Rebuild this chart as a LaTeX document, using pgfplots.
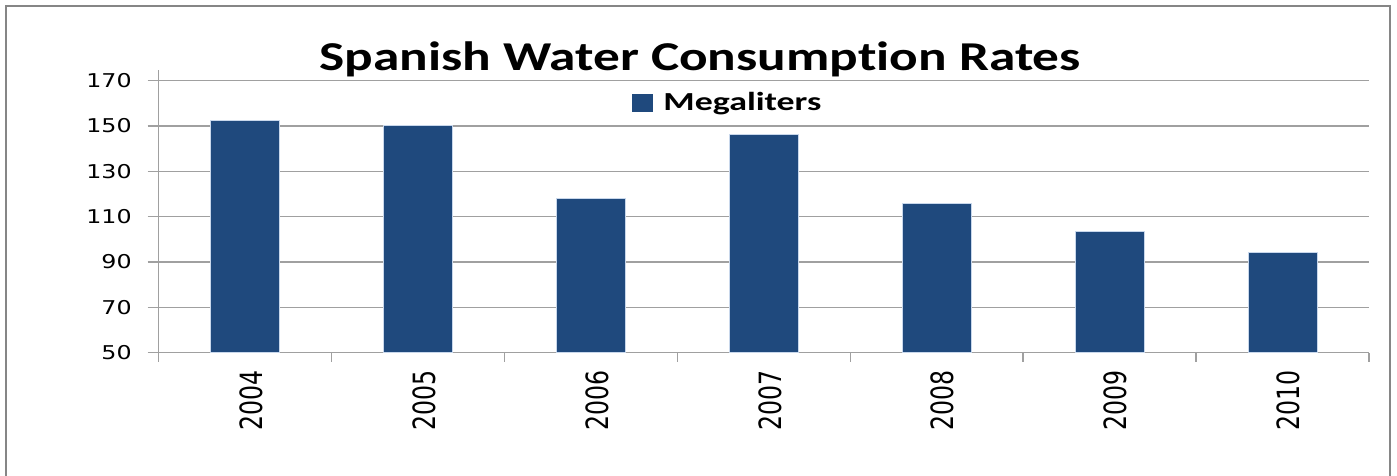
\documentclass[border=0pt]{standalone}
\usepackage{pgfplots}
\pgfplotsset{compat=1.18}
\usepackage{fontspec}
\usepackage{graphicx}
\setmainfont{DejaVu Sans}
\newfontfamily\ylabfont[FakeStretch=1.25]{DejaVu Sans}
\newfontfamily\xlabfont{DejaVu Sans}
\newfontfamily\titlefont[FakeStretch=1.3,RawFeature={-liga;-dlig}]{Carlito}
\newfontfamily\legfont[FakeStretch=1.38,RawFeature={-liga;-dlig}]{Carlito}
\definecolor{barblue}{RGB}{31,73,125}
\definecolor{baredge}{RGB}{200,215,235}
\definecolor{gridgray}{RGB}{160,160,160}
\definecolor{framegray}{RGB}{134,134,134}
\newcommand{\xl}[1]{\scalebox{1}[1.3]{#1}}
\begin{document}
\begin{tikzpicture}[x=1pt,y=1pt]
\path[use as bounding box] (0,0) rectangle (698.5,238);
\draw[framegray, line width=1pt] (3,-2) -- (3,235) -- (695,235) -- (695,-2);
\begin{axis}[
  at={(79.35pt,61.65pt)}, anchor=south west,
  scale only axis, width=605.15pt, height=136pt,
  xmin=-0.5, xmax=6.5, ymin=50, ymax=170,
  ytick={50,70,...,170},
  xtick={0,...,6},
  xticklabels={\xl{2004},\xl{2005},\xl{2006},\xl{2007},\xl{2008},\xl{2009},\xl{2010}},
  minor xtick={-0.5,0.5,...,6.5},
  axis lines*=left,
  axis line style={gridgray, line width=0.75pt},
  ymajorgrids,
  grid style={gridgray, line width=0.75pt},
  tick align=outside,
  major tick length=5.5pt, minor tick length=4.5pt,
  tick style={gridgray, line width=0.75pt},
  major x tick style={draw=none},
  clip=false,
  /pgf/number format/assume math mode=true,
  yticklabel style={font=\ylabfont\fontsize{9.5}{9.5}\selectfont, text=black, xshift=-4.5pt},
  xticklabel style={font=\xlabfont\fontsize{11.8}{11.8}\selectfont, text=black, rotate=90, anchor=east, yshift=-3pt},
  title={Spanish Water Consumption Rates},
  title style={at={(axis description cs:0.4473,0.992)}, anchor=base,
    font=\titlefont\bfseries\fontsize{20.5}{20.5}\selectfont, inner sep=0pt},
  legend style={at={(axis description cs:0.3908,0.918)}, anchor=west,
    draw=none, fill=none, inner sep=0pt, outer sep=0pt,
    font=\legfont\bfseries\fontsize{13}{13}\selectfont},
  ybar, bar width=34.5pt,
]
\draw[gridgray, line width=0.75pt] (rel axis cs:0,1) -- ++(0pt,5.5pt);
\addplot[fill=barblue, draw=baredge, line width=0.4pt,
  legend image code/.code={\fill[barblue] (0pt,-4.25pt) rectangle (10pt,4.25pt);}] coordinates {
  (0,152.5) (1,150.1) (2,117.9) (3,146.3) (4,115.9) (5,103.4) (6,94.2)
};
\addlegendentry{\hspace{3.5pt}Megaliters}
\end{axis}
\end{tikzpicture}
\end{document}
